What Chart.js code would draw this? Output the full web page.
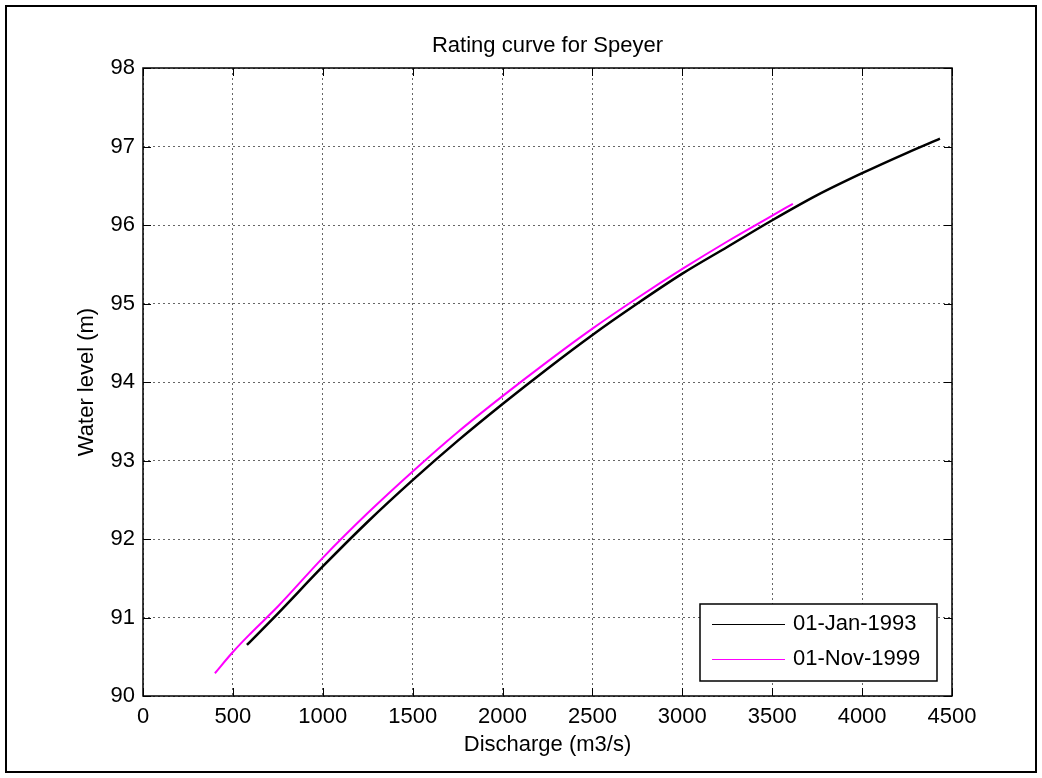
<!DOCTYPE html>
<html>
<head>
<meta charset="utf-8">
<title>Rating curve for Speyer</title>
<script src="https://cdn.jsdelivr.net/npm/chart.js@4.4.1/dist/chart.umd.min.js"></script>
<style>
    html, body { margin: 0; padding: 0; background: #fff; }
    #wrap { width: 1042px; height: 778px; position: relative; }
</style>
</head>
<body>
<div id="wrap"><canvas id="myChart" width="1042" height="778"></canvas></div>
<script>
// discharge (m3/s) and water level (m) for each rating curve
const dischargeJan1993 = [578, 750, 1000, 1250, 1500, 1750, 2000, 2250, 2500, 2750, 3000, 3250, 3500, 3750, 4000, 4250, 4433];
const levelJan1993 = [90.65, 91.05, 91.65, 92.22, 92.75, 93.25, 93.72, 94.17, 94.60, 95.00, 95.38, 95.72, 96.06, 96.38, 96.66, 96.92, 97.10];

const dischargeNov1999 = [400, 500, 600, 750, 1000, 1250, 1500, 1750, 2000, 2250, 2500, 2750, 3000, 3250, 3500, 3615];
const levelNov1999 = [90.29, 90.56, 90.80, 91.14, 91.76, 92.33, 92.86, 93.36, 93.82, 94.26, 94.68, 95.07, 95.44, 95.79, 96.12, 96.27];

const seriesLabels = ["01-Jan-1993", "01-Nov-1999"];
const xTicks = [0, 500, 1000, 1500, 2000, 2500, 3000, 3500, 4000, 4500];
const yTicks = [90, 91, 92, 93, 94, 95, 96, 97, 98];

const FONT = "'Liberation Sans', Arial, Helvetica, sans-serif";
const FONT_SIZE = 22;

function toPoints(xs, ys) {
    return xs.map((x, i) => ({ x: x, y: ys[i] }));
}

// frame, title, axis labels, inward ticks and the legend box, matlab style
const matlabLook = {
    id: "matlabLook",
    beforeDraw(chart) {
        const ctx = chart.ctx;
        ctx.save();
        ctx.fillStyle = "#fff";
        ctx.fillRect(0, 0, chart.width, chart.height);
        ctx.restore();
    },
    afterDraw(chart) {
        const ctx = chart.ctx;
        const a = chart.chartArea;
        const xs = chart.scales.x;
        const ys = chart.scales.y;
        ctx.save();

        // outer figure frame
        ctx.strokeStyle = "#000";
        ctx.lineWidth = 2;
        ctx.strokeRect(6, 6, chart.width - 12, chart.height - 12);

        // axes box
        ctx.lineWidth = 1.5;
        ctx.strokeRect(a.left, a.top, a.right - a.left, a.bottom - a.top);

        // inward ticks on all four sides
        const tl = 8;
        ctx.lineWidth = 1;
        ctx.beginPath();
        xTicks.forEach((v) => {
            const px = Math.round(xs.getPixelForValue(v)) + 0.5;
            ctx.moveTo(px, a.bottom);
            ctx.lineTo(px, a.bottom - tl);
            ctx.moveTo(px, a.top);
            ctx.lineTo(px, a.top + tl);
        });
        yTicks.forEach((v) => {
            const py = Math.round(ys.getPixelForValue(v)) + 0.5;
            ctx.moveTo(a.left, py);
            ctx.lineTo(a.left + tl, py);
            ctx.moveTo(a.right, py);
            ctx.lineTo(a.right - tl, py);
        });
        ctx.stroke();

        // title and axis labels
        ctx.fillStyle = "#000";
        ctx.font = FONT_SIZE + "px " + FONT;
        ctx.textAlign = "center";
        ctx.textBaseline = "middle";
        const cx = (a.left + a.right) / 2;
        ctx.fillText("Rating curve for Speyer", cx, 46);
        ctx.fillText("Discharge (m3/s)", cx, 745);
        ctx.save();
        ctx.translate(87, (a.top + a.bottom) / 2);
        ctx.rotate(-Math.PI / 2);
        ctx.fillText("Water level (m)", 0, 0);
        ctx.restore();

        // legend in the lower right corner of the axes
        const bx = 700, by = 604, bw = 237, bh = 77;
        ctx.fillStyle = "#fff";
        ctx.fillRect(bx, by, bw, bh);
        ctx.strokeStyle = "#000";
        ctx.lineWidth = 1.5;
        ctx.strokeRect(bx, by, bw, bh);
        ctx.textAlign = "left";
        chart.data.datasets.forEach((ds, i) => {
            const ly = by + 20 + i * 35;
            ctx.strokeStyle = ds.borderColor;
            ctx.lineWidth = 1;
            ctx.beginPath();
            ctx.moveTo(bx + 12, ly + 0.5);
            ctx.lineTo(bx + 85, ly + 0.5);
            ctx.stroke();
            ctx.fillStyle = "#000";
            ctx.fillText(ds.label, bx + 93, ly);
        });
        ctx.restore();
    },
};

const ctx = document.getElementById("myChart");

new Chart(ctx, {
    type: "scatter",
    data: {
        datasets: [
            {
                label: seriesLabels[0],
                data: toPoints(dischargeJan1993, levelJan1993),
                showLine: true,
                borderColor: "#000000",
                borderWidth: 2.5,
                pointRadius: 0,
                cubicInterpolationMode: "monotone",
            },
            {
                label: seriesLabels[1],
                data: toPoints(dischargeNov1999, levelNov1999),
                showLine: true,
                borderColor: "#ff00ff",
                borderWidth: 2,
                pointRadius: 0,
                cubicInterpolationMode: "monotone",
            },
        ],
    },
    options: {
        responsive: false,
        animation: false,
        layout: {
            padding: { top: 68, right: 90, left: 0, bottom: 0 },
        },
        plugins: {
            legend: { display: false },
            tooltip: { enabled: false },
        },
        scales: {
            x: {
                type: "linear",
                min: 0,
                max: 4500,
                afterBuildTicks(scale) {
                    scale.ticks = xTicks.map((v) => ({ value: v }));
                },
                afterFit(scale) {
                    scale.height = 82;
                },
                ticks: {
                    color: "#000",
                    font: { family: FONT, size: FONT_SIZE },
                    padding: 8,
                    maxRotation: 0,
                    callback: (v) => String(v),
                },
                grid: {
                    color: "rgba(0,0,0,0.6)",
                    lineWidth: 1,
                    drawTicks: false,
                },
                border: { display: false, dash: [2, 3] },
            },
            y: {
                type: "linear",
                min: 90,
                max: 98,
                afterBuildTicks(scale) {
                    scale.ticks = yTicks.map((v) => ({ value: v }));
                },
                afterFit(scale) {
                    scale.width = 143;
                },
                ticks: {
                    color: "#000",
                    font: { family: FONT, size: FONT_SIZE },
                    padding: 8,
                    callback: (v) => String(v),
                },
                grid: {
                    color: "rgba(0,0,0,0.6)",
                    lineWidth: 1,
                    drawTicks: false,
                },
                border: { display: false, dash: [2, 3] },
            },
        },
    },
    plugins: [matlabLook],
});
</script>
</body>
</html>
